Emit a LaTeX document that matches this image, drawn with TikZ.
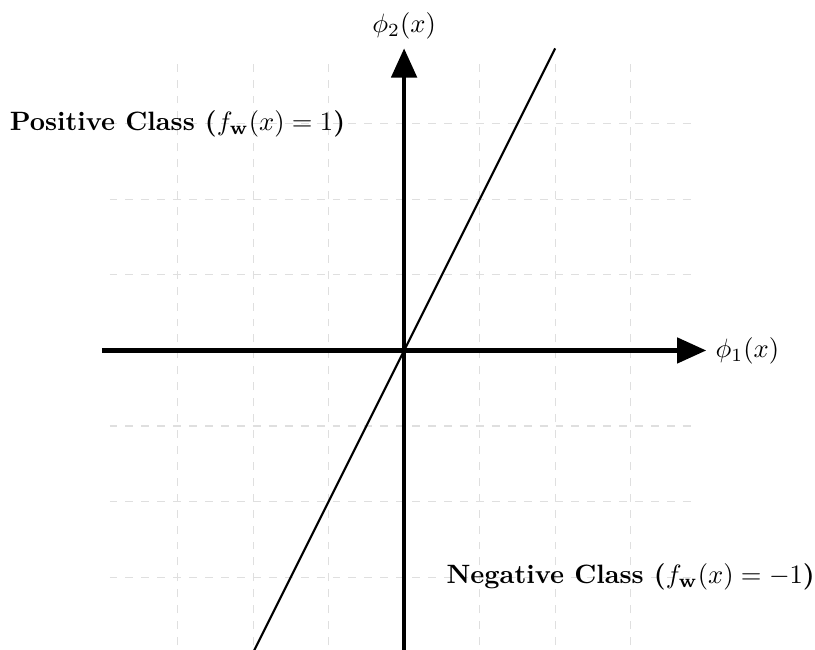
\documentclass[tikz,border=0pt]{standalone}
\usepackage{amsmath,amssymb}
\usepackage{tikz}
\usetikzlibrary{arrows.meta,positioning}

\begin{document}
\begin{tikzpicture}[
    axisline/.style={ultra thick,-{Triangle[length=11pt,width=9.5pt]}},
    gridline/.style={gray!25,dashed},
    classlabel/.style={font=\bfseries}]
    \useasboundingbox (-5.35,-3.96) rectangle (5.44,4.64);
    % Background grid
    \draw[gridline] (-3.9,-3.9) grid (3.9,3.9);

    % Axes
    \coordinate (xmin) at (-4,0);
    \coordinate (xmax) at (4,0);
    \coordinate (ymin) at (0,-4);
    \coordinate (ymax) at (0,4);
    \draw[axisline] (xmin) -- (xmax);
    \draw[axisline] (ymin) -- (ymax);
    \node[right=0pt of xmax] (xlabel) {$\phi_1(x)$};
    \node[above=0pt of ymax] (ylabel) {$\phi_2(x)$};

    % Decision boundary
    \coordinate (bndlow) at (-2,-4);
    \coordinate (bndhigh) at (2,4);
    \draw[thick] (bndlow) -- (bndhigh);

    % Class labels
    \node[classlabel] (poslabel) at (-3,3) {Positive Class ($f_{\mathbf{w}}(x) = 1$)};
    \node[classlabel] (neglabel) at (3,-3) {Negative Class ($f_{\mathbf{w}}(x) = -1$)};
\end{tikzpicture}
\end{document}
